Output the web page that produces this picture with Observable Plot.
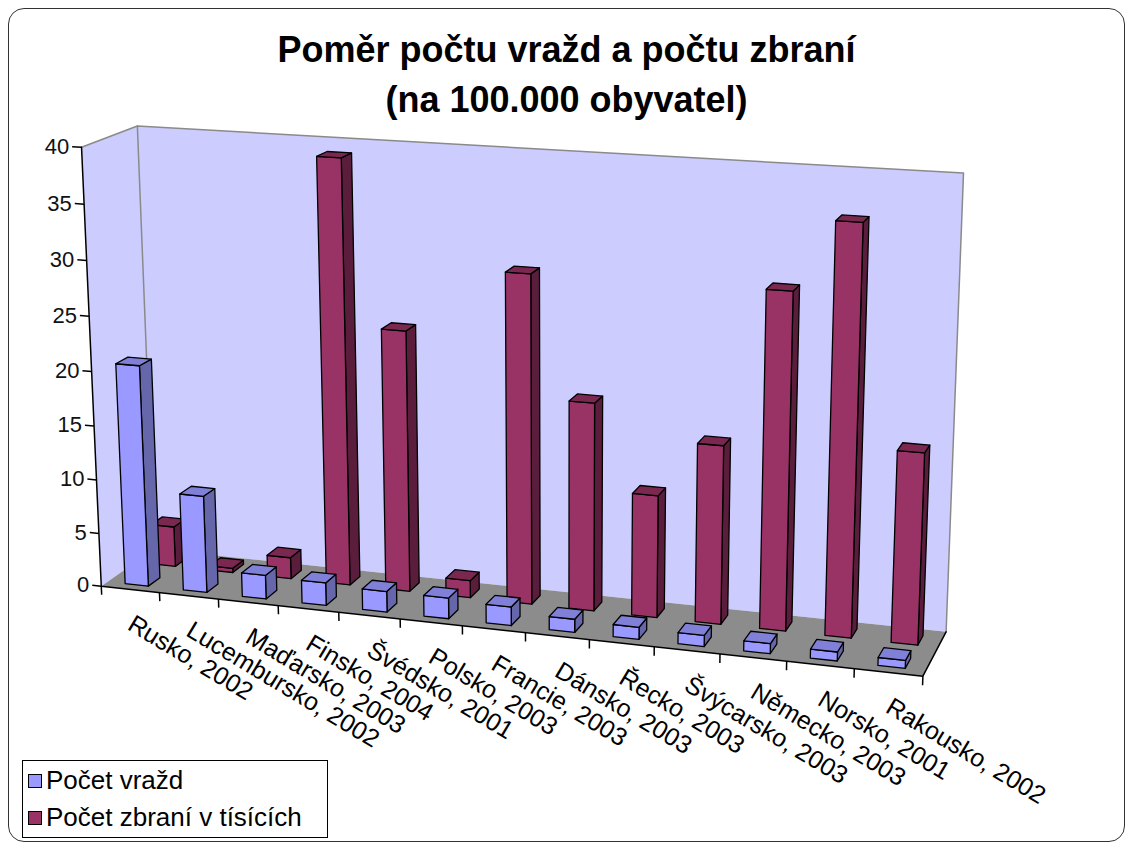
<!DOCTYPE html>
<html>
<head>
<meta charset="utf-8">
<script src="https://cdn.jsdelivr.net/npm/d3@7"></script>
<script src="https://cdn.jsdelivr.net/npm/@observablehq/plot@0.6"></script>
<style>
  body { margin: 0; background: #fff; font-family: "Liberation Sans", Arial, sans-serif; }
  #page { position: relative; width: 1133px; height: 848px; overflow: hidden; background: #fff; }
  #frame { position: absolute; left: 8px; top: 8px; width: 1117px; height: 834px; border: 1px solid #333; border-radius: 16px; box-sizing: border-box; }
  #title { position: absolute; left: 0; top: 25px; width: 1133px; text-align: center; font-weight: bold; font-size: 36px; line-height: 50px; color: #000; }
  #chart { position: absolute; left: 0; top: 120px; }
  #legend { position: absolute; left: 22px; top: 760px; width: 306px; height: 78px; border: 1px solid #000; background: #fff; box-sizing: border-box; font-size: 26px; padding: 1px 0 0 5px; }
  #legend .item { height: 37px; line-height: 37px; white-space: nowrap; }
  #legend .sw { display: inline-block; width: 12px; height: 12px; border: 1px solid #000; margin-right: 4px; vertical-align: 1px; }
</style>
</head>
<body>
<div id="page">
  <div id="frame"></div>
  <div id="title">Poměr počtu vražd a počtu zbraní<br>(na 100.000 obyvatel)</div>
  <div id="chart"></div>
  <div id="legend"></div>
</div>
<script>
// ---------------- data ----------------
const categories = ["Rusko, 2002", "Lucembursko, 2002", "Maďarsko, 2003", "Finsko, 2004", "Švédsko, 2001", "Polsko, 2003", "Francie, 2003", "Dánsko, 2003", "Řecko, 2003", "Švýcarsko, 2003", "Německo, 2003", "Norsko, 2001", "Rakousko, 2002"];
const seriesNames = ["Počet vražd", "Počet zbraní v tísících"];
const pocetVrazd = [20.5, 9.0, 2.2, 2.1, 1.9, 1.9, 1.7, 1.2, 1.1, 1.0, 0.9, 0.8, 0.7];
const pocetZbrani = [3.8, 0.4, 2.0, 39.0, 24.0, 1.6, 29.9, 18.9, 11.1, 16.1, 30.0, 36.2, 17.0];
const yTicks = [0, 5, 10, 15, 20, 25, 30, 35, 40];
const yMax = 40;

// ---------------- style / layout ----------------
const W = 1133, H = 728, TOP = 120;
const colors = [
  {front: "#9999FF", side: "#6666AA", top: "#8080D8"},
  {front: "#993366", side: "#5A1E3C", top: "#7A2850"}
];
const wallColor = "#CCCCFF", floorColor = "#8C8C8C";
// box corners: [u, depth, height(0..1), pageX, pageY]
const anchors = [
  [0, 0, 0, 100, 584], [0, 0, 1, 82, 148], [0, 1, 1, 136, 124], [0, 1, 0, 155, 551],
  [1, 1, 1, 963, 173], [1, 1, 0, 945, 630], [1, 0, 0, 923, 677],
  [5 / 13, 0, 0, 398, 618], [8 / 13, 0, 0, 590, 639], [0, 0, 0.5, 91, 371]
];
const rows = [[0.12, 0.34], [0.64, 0.86]];
const barFrac = 0.4;

// perspective camera fitted to the box corners (DLT, least squares)
function fitProjection(corr) {
  const A = [], b = [];
  for (const [X, Y, Z, x0, y0] of corr) {
    const x = x0 / 1000, y = y0 / 1000;
    A.push([X, Y, Z, 1, 0, 0, 0, 0, -x * X, -x * Y, -x * Z]); b.push(x);
    A.push([0, 0, 0, 0, X, Y, Z, 1, -y * X, -y * Y, -y * Z]); b.push(y);
  }
  const n = 11;
  const M = Array.from({length: n}, () => new Array(n + 1).fill(0));
  for (let r = 0; r < A.length; r++) {
    for (let i = 0; i < n; i++) {
      for (let j = 0; j < n; j++) M[i][j] += A[r][i] * A[r][j];
      M[i][n] += A[r][i] * b[r];
    }
  }
  for (let c = 0; c < n; c++) {
    let p = c;
    for (let r = c + 1; r < n; r++) if (Math.abs(M[r][c]) > Math.abs(M[p][c])) p = r;
    [M[c], M[p]] = [M[p], M[c]];
    for (let r = 0; r < n; r++) {
      if (r === c) continue;
      const f = M[r][c] / M[c][c];
      for (let k = c; k <= n; k++) M[r][k] -= f * M[c][k];
    }
  }
  const q = M.map((row, i) => row[n] / row[i]);
  return (X, Y, Z) => {
    const d = q[8] * X + q[9] * Y + q[10] * Z + 1;
    return [1000 * (q[0] * X + q[1] * Y + q[2] * Z + q[3]) / d,
            1000 * (q[4] * X + q[5] * Y + q[6] * Z + q[7]) / d];
  };
}
const P = fitProjection(anchors.map(([X, Y, Z, x, y]) => [X, Y, Z, x, y - TOP]));
const n = categories.length;

function addPoly(arr, id, pts, fill) {
  for (const [u, w, z] of pts) {
    const [x, y] = P(u, w, z);
    arr.push({id, x, y, fill});
  }
}

// walls & floor
const walls = [];
addPoly(walls, "left", [[0,0,0],[0,0,1],[0,1,1],[0,1,0]], wallColor);
addPoly(walls, "back", [[0,1,0],[0,1,1],[1,1,1],[1,1,0]], wallColor);
addPoly(walls, "floor", [[0,0,0],[0,1,0],[1,1,0],[1,0,0]], floorColor);

// bars (back row first, then front row)
const seriesValues = [pocetVrazd, pocetZbrani];
const bars = [];
for (const s of [1, 0]) {
  const [w0, w1] = rows[s];
  seriesValues[s].forEach((v, i) => {
    const u0 = (i + 0.5 - barFrac / 2) / n, u1 = (i + 0.5 + barFrac / 2) / n;
    const z = v / yMax;
    const c = colors[s];
    addPoly(bars, `s${s}-${i}-side`, [[u1,w0,0],[u1,w1,0],[u1,w1,z],[u1,w0,z]], c.side);
    addPoly(bars, `s${s}-${i}-front`, [[u0,w0,0],[u1,w0,0],[u1,w0,z],[u0,w0,z]], c.front);
    addPoly(bars, `s${s}-${i}-top`, [[u0,w0,z],[u1,w0,z],[u1,w1,z],[u0,w1,z]], c.top);
  });
}

// wall edge lines
const edges = [];
addPoly(edges, "e1", [[0,0,1],[0,1,1],[1,1,1],[1,1,0]], "#888");
addPoly(edges, "e2", [[0,1,1],[0,1,0]], "#888");
const axes = [];
addPoly(axes, "a1", [[0,0,1],[0,0,0],[1,0,0],[1,1,0]], "#000");

// ticks
const yTickData = yTicks.map(t => {
  const [x1, y1] = P(0, 0, t / yMax);
  const [x2, y2] = P(-0.012, 0, t / yMax);
  return {t, x1, y1, x2, y2};
});
const xTickData = d3.range(n + 1).map(k => {
  const [x1, y1] = P(k / n, 0, 0);
  const [x2, y2] = P(k / n, 0, -0.02);
  return {x1, y1, x2, y2};
});
const labelData = categories.map((c, i) => {
  const [x, y] = P((i + 0.5) / n, 0, 0);
  return {c, x, y};
});

const chart = Plot.plot({
  width: W, height: H, margin: 0,
  x: {domain: [0, W], range: [0, W], axis: null},
  y: {domain: [0, H], range: [0, H], axis: null},
  color: {type: "identity"},
  style: {fontFamily: "Liberation Sans, Arial, sans-serif", background: "transparent", overflow: "visible"},
  marks: [
    Plot.line(walls, {x: "x", y: "y", z: "id", fill: "fill", stroke: null, curve: "linear-closed"}),
    Plot.line(edges, {x: "x", y: "y", z: "id", stroke: "#8a8a8a", strokeWidth: 1.5}),
    Plot.line(axes, {x: "x", y: "y", z: "id", stroke: "#000", strokeWidth: 1.5}),
    Plot.link(yTickData, {x1: "x1", y1: "y1", x2: "x2", y2: "y2", stroke: "#000", strokeWidth: 1.5}),
    Plot.link(xTickData, {x1: "x1", y1: "y1", x2: "x2", y2: "y2", stroke: "#000", strokeWidth: 1.5}),
    Plot.line(bars, {x: "x", y: "y", z: "id", fill: "fill", stroke: "#000", strokeWidth: 1.3, strokeLinejoin: "round", curve: "linear-closed"}),
    Plot.text(yTickData, {x: "x2", y: "y2", text: d => String(d.t), dx: -3, textAnchor: "end", fontSize: 22, fill: "#111"}),
    Plot.text(labelData, {x: "x", y: "y", text: "c", dx: 5, dy: 24, rotate: 31, textAnchor: "start", lineAnchor: "top", fontSize: 25, fill: "#000"})
  ]
});
document.getElementById("chart").appendChild(chart);

// legend
const legend = document.getElementById("legend");
seriesNames.forEach((name, s) => {
  const item = document.createElement("div");
  item.className = "item";
  const sw = document.createElement("span");
  sw.className = "sw";
  sw.style.background = colors[s].front;
  item.appendChild(sw);
  item.appendChild(document.createTextNode(name));
  legend.appendChild(item);
});
</script>
</body>
</html>
